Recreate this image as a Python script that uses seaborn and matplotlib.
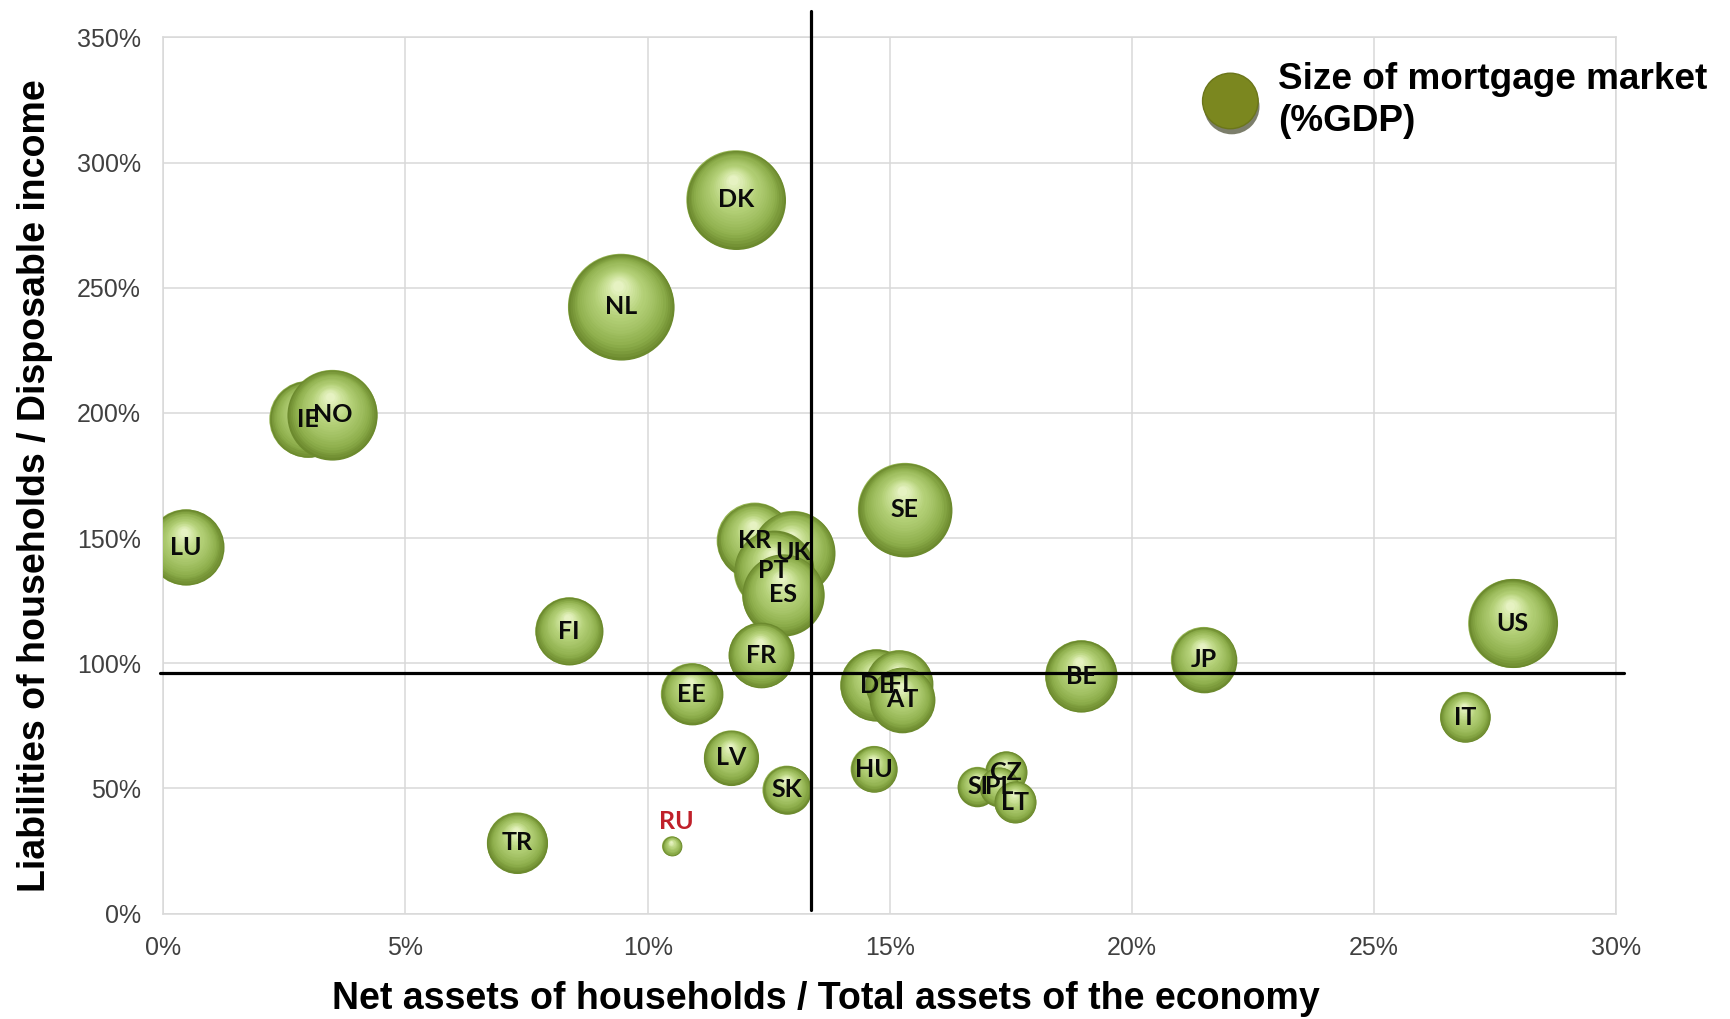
import numpy as np
import pandas as pd
import matplotlib
matplotlib.use("Agg")
import matplotlib.pyplot as plt
import matplotlib.patheffects as pe
import seaborn as sns
from matplotlib.colors import LinearSegmentedColormap
from matplotlib.lines import Line2D
from matplotlib.ticker import PercentFormatter

# data (in %)
countries = ["DK", "NL", "IE", "NO", "LU", "SE", "KR", "UK", "PT", "ES",
             "FI", "FR", "EE", "DE", "FI", "AT", "BE", "JP", "US", "IT",
             "LV", "SK", "HU", "CZ", "SI", "PL", "LT", "TR", "RU"]
net_assets = [11.82, 9.45, 2.98, 3.49, 0.46, 15.31, 12.21, 13.0, 12.6, 12.8,
              8.38, 12.35, 10.91, 14.72, 15.19, 15.26, 18.95, 21.48, 27.86, 26.88,
              11.73, 12.87, 14.67, 17.40, 16.81, 17.26, 17.59, 7.31, 10.50]
liabilities = [285.2, 242.4, 197.5, 199.2, 146.3, 161.3, 149.0, 144.1, 137.1, 127.4,
               112.8, 103.2, 87.7, 91.2, 91.7, 85.5, 94.8, 101.4, 115.9, 78.5,
               62.2, 49.4, 57.7, 56.4, 50.7, 50.7, 44.5, 28.2, 26.9]
mortgage = [100, 115, 60, 83, 59, 90, 59, 72, 65, 69,
            47, 44, 39, 53, 47, 44, 53, 44, 81, 26,
            31, 24, 22, 18, 16, 16, 18, 38, 4]

# crosshair thresholds
avg_net_assets = 13.37
avg_liabilities = 96.1

DPI = 100
K = 50.8  # marker area (pt^2) per % GDP

sns.set_theme(style="white")
plt.rcParams['font.family'] = ['Liberation Sans', 'DejaVu Sans']

df = pd.DataFrame({"country": countries, "net_assets": net_assets,
                   "liabilities": liabilities, "mortgage": mortgage})

fig = plt.figure(figsize=(17.3, 10.19), dpi=DPI)
ax = fig.add_axes([0.0944, 0.1035, 0.8399, 0.8597])
ax.set_xlim(0, 30)
ax.set_ylim(0, 350)

sns.scatterplot(data=df, x="net_assets", y="liabilities", size="mortgage",
                sizes=(K * min(mortgage), K * max(mortgage)), color="#94b451",
                edgecolor="none", linewidth=0, legend=False, ax=ax, zorder=3)

# fake 3D shading: stacked circles with highlight pulled up
shade = LinearSegmentedColormap.from_list(
    "bubble", ["#6c8a2e", "#8fb04d", "#a3c264", "#b4d078", "#cce29a", "#e6f2c2"])
n_layers = 24
to_data = ax.transData.inverted()
for x, y, m in zip(net_assets, liabilities, mortgage):
    cx, cy = ax.transData.transform((x, y))
    r_px = np.sqrt(K * m) * DPI / 72 / 2
    for i in range(n_layers):
        t = i / (n_layers - 1)
        f = 1 - 0.9 * t
        px, py = to_data.transform((cx - 0.05 * r_px * t, cy + 0.4 * r_px * t))
        ax.scatter(px, py, s=K * m * f ** 2, color=shade(t), linewidths=0, zorder=3)

for c, x, y in zip(countries, net_assets, liabilities):
    if c == "RU":
        ax.annotate(c, (x, y), xytext=(3, 18), textcoords="offset points",
                    ha="center", va="center", fontsize=18, fontweight="bold",
                    family="Lato", color="#c0202a", zorder=6)
    else:
        ax.text(x, y, c, ha="center", va="center", fontsize=18, fontweight="bold",
                family="Lato", color="#0a0a0a", zorder=6)

ax.plot([avg_net_assets, avg_net_assets], [1.3, 360.6], color="black", lw=2.3,
        clip_on=False, zorder=5)
ax.plot([-0.07, 30.16], [avg_liabilities, avg_liabilities], color="black", lw=2.3,
        clip_on=False, zorder=5)

ax.set_xticks(np.arange(0, 31, 5))
ax.set_yticks(np.arange(0, 351, 50))
ax.xaxis.set_major_formatter(PercentFormatter(100, decimals=0))
ax.yaxis.set_major_formatter(PercentFormatter(100, decimals=0))
ax.tick_params(length=0, labelsize=18, labelcolor="#404040")
ax.tick_params(axis="x", pad=16)
ax.tick_params(axis="y", pad=16)
ax.grid(True, color="#d9d9d9", lw=1.1)
ax.set_axisbelow(True)
for sp in ax.spines.values():
    sp.set_color("#d9d9d9")
    sp.set_linewidth(1.1)

ax.set_xlabel("Net assets of households / Total assets of the economy",
              fontsize=27, fontweight="bold", va="center", color="black")
ax.xaxis.set_label_coords(0.456, -0.097)
ax.set_ylabel("Liabilities of households / Disposable income",
              fontsize=27, fontweight="bold", va="center", ha="center", color="black")
ax.yaxis.set_label_coords(-0.088, 0.489)

handle = Line2D([], [], marker="o", linestyle="none", markersize=40,
                markerfacecolor="#7b871f", markeredgecolor="#6b761a",
                path_effects=[pe.SimplePatchShadow(offset=(1, -4), alpha=0.6), pe.Normal()])
leg = ax.legend(handles=[handle], labels=["Size of mortgage market\n(%GDP)"],
                loc="upper left", bbox_to_anchor=(0.714, 0.972), frameon=False,
                borderpad=0, borderaxespad=0, handlelength=1.6, handletextpad=0.5,
                prop={"size": 26.6, "weight": "bold"}, labelspacing=0)
for txt in leg.get_texts():
    txt.set_color("black")
    txt.set_linespacing(1.25)

fig.savefig("out.png", dpi=DPI)
